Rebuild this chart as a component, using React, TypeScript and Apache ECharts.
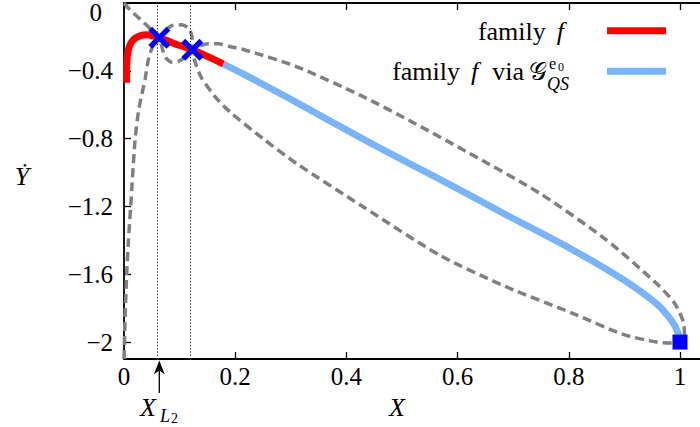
import React, { useEffect, useRef } from "react";
import * as echarts from "echarts";

const xTicks = [0, 0.2, 0.4, 0.6, 0.8, 1];
const xTickLabels = ["0", "0.2", "0.4", "0.6", "0.8", "1"];
const yTicks = [-2, -1.6, -1.2, -0.8, -0.4, 0];
const yLabelValues = [-2, -1.6, -1.2, -0.8, -0.4];
const yTickLabels = ["−2", "−1.6", "−1.2", "−0.8", "−0.4", "0"];

// red: family f
const familyF: number[][] = [
  [0.0045, -0.47], [0.0045, -0.42], [0.005, -0.36], [0.0062, -0.31], [0.0085, -0.27],
  [0.0125, -0.236], [0.0198, -0.208], [0.028, -0.194], [0.0347, -0.189], [0.042, -0.188],
  [0.0497, -0.192], [0.0635, -0.204], [0.0887, -0.237], [0.1229, -0.276], [0.1547, -0.322],
  [0.1787, -0.36],
];
// light blue: family f via G_QS^e0
const familyFviaG: number[][] = [
  [0.1787, -0.36], [0.2176, -0.424], [0.3, -0.568], [0.37, -0.695], [0.45, -0.838],
  [0.568, -1.04], [0.688, -1.25], [0.808, -1.458], [0.898, -1.632], [0.958, -1.775],
  [0.985, -1.875], [0.997, -1.95], [1.0, -2.0],
];
// dashed branch starting at (0,0)
const branchUpper: number[][] = [
  [0, 0], [0.0108, -0.04], [0.0378, -0.123], [0.0635, -0.207], [0.0695, -0.276],
  [0.0755, -0.325], [0.0857, -0.349], [0.0977, -0.345], [0.1097, -0.319], [0.1229, -0.2765],
  [0.1367, -0.253], [0.1517, -0.241], [0.1697, -0.241], [0.1906, -0.257], [0.2176, -0.277],
  [0.31, -0.375], [0.43, -0.552], [0.52, -0.705], [0.616, -0.877], [0.748, -1.123],
  [0.868, -1.399], [0.958, -1.655], [0.99, -1.77], [1.006, -1.88], [1.008, -1.95], [1.0, -2.0],
];
// dashed branch starting at the bottom left
const branchLower: number[][] = [
  [0.0, -2.1], [0.002, -1.85], [0.0048, -1.6], [0.008, -1.4], [0.012, -1.2], [0.0198, -0.81],
  [0.026, -0.64], [0.032, -0.54], [0.0378, -0.453], [0.0438, -0.335], [0.0516, -0.257],
  [0.0635, -0.207], [0.0755, -0.158], [0.0887, -0.131], [0.1037, -0.129], [0.1157, -0.148],
  [0.1217, -0.188], [0.1235, -0.237], [0.1229, -0.2765], [0.1307, -0.375], [0.1397, -0.443],
  [0.1637, -0.552], [0.19, -0.641], [0.25, -0.8], [0.31, -0.946], [0.43, -1.202],
  [0.568, -1.488], [0.688, -1.675], [0.808, -1.832], [0.898, -1.955], [0.958, -2.0],
  [0.985, -2.005], [1.0, -2.0],
];
const crossings: number[][] = [[0.0635, -0.205], [0.1229, -0.2765]];
const endPoint: number[][] = [[1, -2]];
const dottedX = [0.0635, 0.1229];
const xL2 = 0.0635;

const SERIF = "Liberation Serif";
const RED = "#ff0000";
const BLUE = "#79b4f9";
const GREY = "#808080";
const CROSS = "path://M3.5,0L10,6.5L16.5,0L20,3.5L13.5,10L20,16.5L16.5,20L10,13.5L3.5,20L0,16.5L6.5,10L0,3.5Z";

const GRID = { left: 124, right: 0, top: 3, bottom: 68 };
const X_MAX = 1.036;

function lookup(vals: number[], labels: string[], v: number) {
  for (let i = 0; i < vals.length; i++) if (Math.abs(vals[i] - v) < 1e-9) return labels[i];
  return "";
}

export default function App() {
  const ref = useRef<HTMLDivElement>(null);
  useEffect(() => {
    document.body.style.margin = "0";
    const chart = echarts.init(ref.current!, null, { renderer: "svg" });
    const plotW = 700 - GRID.left - GRID.right;
    const ax = GRID.left + (xL2 / X_MAX) * plotW;
    const xAxisBase = {
      type: "value",
      min: 0,
      max: X_MAX,
      splitLine: { show: false },
      axisLine: { show: true, onZero: false, lineStyle: { color: "#000", width: 1.8 } },
      axisTick: { show: true, inside: true, length: 7, customValues: xTicks, lineStyle: { color: "#000", width: 1.3 } },
    };
    const txt = (x: number, y: number, text: string, size: number, italic: boolean, align = "center") => ({
      type: "text", x, y,
      style: { text, fontFamily: SERIF, fontSize: size, fontStyle: italic ? "italic" : "normal", fill: "#000", align, verticalAlign: "middle" },
    });
    chart.setOption({
      animation: false,
      grid: GRID,
      xAxis: [
        {
          ...xAxisBase,
          position: "bottom",
          axisLabel: {
            customValues: xTicks,
            formatter: (v: number) => lookup(xTicks, xTickLabels, v),
            fontFamily: SERIF, fontSize: 25, color: "#000", margin: 5,
          },
        },
        { ...xAxisBase, position: "top", axisLabel: { show: false } },
      ],
      yAxis: {
        type: "value",
        min: -2.1,
        max: 0,
        splitLine: { show: false },
        axisLine: { show: true, onZero: false, lineStyle: { color: "#000", width: 1.8 } },
        axisTick: { show: true, inside: true, length: 7, customValues: yTicks, lineStyle: { color: "#000", width: 1.3 } },
        axisLabel: {
          customValues: yLabelValues,
          margin: 11,
          fontFamily: SERIF, fontSize: 25, color: "#000",
          formatter: (v: number) => lookup(yTicks, yTickLabels, v),
        },
      },
      series: [
        {
          type: "line", data: branchUpper, showSymbol: false, smooth: 0.25,
          lineStyle: { color: GREY, width: 3.5, type: [9, 5] },
          markLine: {
            silent: true, symbol: ["none", "none"], label: { show: false },
            lineStyle: { type: [1.2, 2], color: "#000", width: 1 },
            data: dottedX.map((x) => ({ xAxis: x })),
          },
        },
        {
          type: "line", data: branchLower, showSymbol: false, smooth: 0.25,
          lineStyle: { color: GREY, width: 3.5, type: [9, 5] },
        },
        {
          type: "line", name: "family f", data: familyF, showSymbol: false, smooth: 0.3,
          lineStyle: { color: RED, width: 7, cap: "butt" },
        },
        {
          type: "line", name: "family f via G", data: familyFviaG, showSymbol: false, smooth: 0.3,
          lineStyle: { color: BLUE, width: 6.8, cap: "butt" },
        },
        {
          type: "scatter", data: crossings, symbol: CROSS, symbolSize: 22, z: 5,
          itemStyle: { color: "#0000ff", opacity: 1 },
        },
        {
          type: "scatter", data: endPoint, symbol: "rect", symbolSize: 15, z: 5,
          itemStyle: { color: "#0000ff", opacity: 1 },
        },
      ],
      graphic: [
        // top tick label "0" of the Y axis
        txt(102, 12, yTickLabels[5], 25, false, "right"),
        // legend
        {
          type: "text", x: 567, y: 31,
          style: {
            text: "{n|family}{i|f}", align: "right", verticalAlign: "middle",
            rich: {
              n: { fontFamily: SERIF, fontSize: 26, fill: "#000" },
              i: { fontFamily: SERIF, fontSize: 26, fontStyle: "italic", fill: "#000", padding: [0, 3, 0, 11] },
            },
          },
        },
        { type: "line", shape: { x1: 607, y1: 30.8, x2: 666, y2: 30.8 }, style: { stroke: RED, lineWidth: 7 } },
        {
          type: "text", x: 547, y: 71,
          style: {
            text: "{n|family}{i|f}{n|via}{g|𝒢}", align: "right", verticalAlign: "middle",
            rich: {
              n: { fontFamily: SERIF, fontSize: 26, fill: "#000" },
              i: { fontFamily: SERIF, fontSize: 26, fontStyle: "italic", fill: "#000", padding: [0, 14, 0, 11] },
              g: { fontFamily: SERIF, fontSize: 25, fill: "#000", padding: [0, 0, 0, 5] },
            },
          },
        },
        txt(549, 63, "e", 16, false, "left"),
        txt(558, 67, "0", 12, false, "left"),
        txt(547, 84, "QS", 18, true, "left"),
        { type: "line", shape: { x1: 607, y1: 71.3, x2: 666, y2: 71.3 }, style: { stroke: BLUE, lineWidth: 7 } },
        // axis names
        txt(397, 407, "X", 26, true),
        txt(22, 176, "Ẏ", 26, true),
        // X_L2 marker below the axis
        { type: "line", shape: { x1: ax, y1: 393, x2: ax, y2: 369 }, style: { stroke: "#000", lineWidth: 1.3 } },
        { type: "polygon", shape: { points: [[ax, 360.5], [ax - 5.5, 374.5], [ax, 370.5], [ax + 5.5, 374.5]] }, style: { fill: "#000" } },
        txt(148, 407, "X", 26, true),
        txt(160, 416, "L", 18, true, "left"),
        txt(171, 418, "2", 14, false, "left"),
      ],
    });
    return () => chart.dispose();
  }, []);
  return <div ref={ref} style={{ width: 700, height: 427 }} />;
}
